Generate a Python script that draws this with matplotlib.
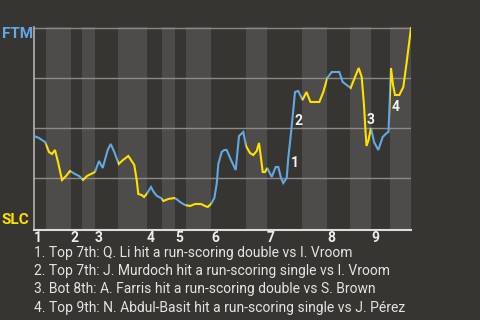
import matplotlib
matplotlib.use('Agg')
import matplotlib.pyplot as plt
from matplotlib.patches import Rectangle

# ---------------- dados ----------------
# progresso do jogo (0-100) e probabilidade de vitória do FTM
progresso = [0, 1.33, 2.12, 2.92, 3.98, 4.77, 5.57, 6.37, 7.43, 8.49,
             9.55, 10.88, 11.94, 13.0, 14.06, 15.12, 16.18, 17.24, 18.22, 19.55,
             20.34, 21.3, 22.47, 23.61, 25.01, 25.73, 26.6, 27.24, 27.67, 28.57,
             29.18, 29.89, 31.03, 31.75, 32.63, 33.69, 34.3, 35.62, 37.21, 37.8,
             38.73, 40.05, 41.38, 42.71, 44.3, 45.36, 46.07, 46.95, 47.83, 48.46,
             48.89, 49.79, 50.48, 51.11, 52.25, 53.5, 54.38, 55.52, 56.23, 57.29,
             58.17, 59.07, 59.68, 60.21, 60.66, 61.27, 61.88, 63.05, 64.11, 64.8,
             65.52, 66.13, 67.03, 67.45, 68.17, 68.78, 69.23, 70.11, 71.22, 72.28,
             73.34, 75.68, 76.74, 77.8, 78.97, 80.98, 81.88, 82.94, 84.0, 85.15,
             86.13, 86.92, 87.53, 87.88, 88.2, 88.73, 89.39, 90.19, 91.33, 92.49,
             93.55, 94.03, 94.69, 95.23, 95.76, 96.9, 97.96, 98.86, 100]
prob_ftm = [0.46, 0.45, 0.44, 0.43, 0.38, 0.37, 0.39, 0.33, 0.24, 0.26,
            0.285, 0.27, 0.26, 0.24, 0.26, 0.27, 0.28, 0.335, 0.30, 0.39,
            0.42, 0.38, 0.32, 0.34, 0.36, 0.34, 0.315, 0.24, 0.17, 0.165,
            0.155, 0.17, 0.205, 0.18, 0.16, 0.15, 0.135, 0.145, 0.15, 0.145,
            0.13, 0.115, 0.11, 0.12, 0.12, 0.11, 0.105, 0.12, 0.15, 0.22,
            0.32, 0.38, 0.39, 0.39, 0.34, 0.29, 0.46, 0.48, 0.41, 0.375,
            0.365, 0.385, 0.425, 0.35, 0.28, 0.28, 0.30, 0.255, 0.305, 0.305,
            0.25, 0.225, 0.25, 0.35, 0.475, 0.59, 0.68, 0.685, 0.64, 0.68,
            0.63, 0.63, 0.68, 0.75, 0.78, 0.78, 0.73, 0.715, 0.70, 0.755,
            0.80, 0.755, 0.615, 0.50, 0.41, 0.44, 0.50, 0.43, 0.39, 0.455,
            0.475, 0.48, 0.80, 0.715, 0.665, 0.665, 0.705, 0.83, 1.0]

# limites das meias-entradas (topo, fundo, topo, ...)
limites = [0, 3.18, 9.81, 12.73, 16.18, 22.28, 29.97, 33.95, 37.4, 40.32,
           46.95, 56.23, 61.8, 71.09, 77.72, 83.82, 89.39, 94.43, 100]
entradas = ['1', '2', '3', '4', '5', '6', '7', '8', '9']

# jogadas destacadas
jogadas_num = ['1', '2', '3', '4']
jogadas_x = [69.23, 70.29, 89.39, 95.84]
jogadas_y = [0.3265, 0.535, 0.54, 0.6035]
jogadas_txt = [
    '1. Top 7th: Q. Li hit a run-scoring double vs I. Vroom',
    '2. Top 7th: J. Murdoch hit a run-scoring single vs I. Vroom',
    '3. Bot 8th: A. Farris hit a run-scoring double vs S. Brown',
    '4. Top 9th: N. Abdul-Basit hit a run-scoring single vs J. Pérez',
]

# cores
fundo = '#373532'
faixa = '#4e4c4a'
grade = '#8c8a88'
azul = '#62a8e2'
amarelo = '#ffe100'

plt.rcParams['font.family'] = ['Roboto', 'DejaVu Sans']

fig = plt.figure(figsize=(4.8, 3.2), dpi=100)
fig.patch.set_facecolor(fundo)

ax = fig.add_axes([34 / 480, 90 / 320, 377 / 480, 203 / 320])
ax.set_facecolor(fundo)
ax.set_xlim(0, 100)
ax.set_ylim(-0.01, 1.005)

# faixas claras nas metades de baixo
for i in range(1, len(limites) - 1, 2):
    ax.axvspan(limites[i], limites[i + 1], color=faixa, lw=0, zorder=0)

ax.set_yticks([0.25, 0.5, 0.75, 1.0])
ax.set_xticks([])
ax.tick_params(axis='y', length=0, labelleft=False)
ax.grid(axis='y', color=grade, linewidth=1, zorder=1)
ax.set_axisbelow(True)

for lado in ['top', 'right']:
    ax.spines[lado].set_visible(False)
ax.spines['left'].set_color('#b5b3b1')
ax.spines['left'].set_linewidth(1.2)
ax.spines['bottom'].set_color('#dcdcdc')
ax.spines['bottom'].set_linewidth(1.5)

# linha colorida pelo time que está rebatendo
for i in range(len(limites) - 1):
    cor = azul if i % 2 == 0 else amarelo
    recorte = Rectangle((limites[i], -0.2), limites[i + 1] - limites[i], 1.4,
                        transform=ax.transData)
    linha, = ax.plot(progresso, prob_ftm, color=cor, linewidth=1.5, zorder=3,
                     solid_joinstyle='miter')
    linha.set_clip_path(recorte)

for n, x, y in zip(jogadas_num, jogadas_x, jogadas_y):
    ax.text(x, y, n, color='#f2f2f2', fontsize=10, fontweight='bold',
            ha='center', va='center', zorder=4)

# números das entradas
for i, rotulo in enumerate(entradas):
    ax.text(limites[2 * i], -0.07, rotulo, color='#ececec', fontsize=10,
            fontweight='bold', ha='left', va='baseline', transform=ax.transData,
            clip_on=False)

fig.text(2 / 480, 1 - 33.5 / 320, 'FTM', color=azul, fontsize=11,
         fontweight='bold', ha='left', va='center')
fig.text(2 / 480, 1 - 219.5 / 320, 'SLC', color=amarelo, fontsize=11,
         fontweight='bold', ha='left', va='center')

for k, txt in enumerate(jogadas_txt):
    fig.text(34 / 480, 1 - (253.3 + 18.1 * k) / 320, txt, color='#e4e4e4',
             fontsize=10, ha='left', va='center')

plt.savefig('out.png', dpi=100, facecolor=fundo)
